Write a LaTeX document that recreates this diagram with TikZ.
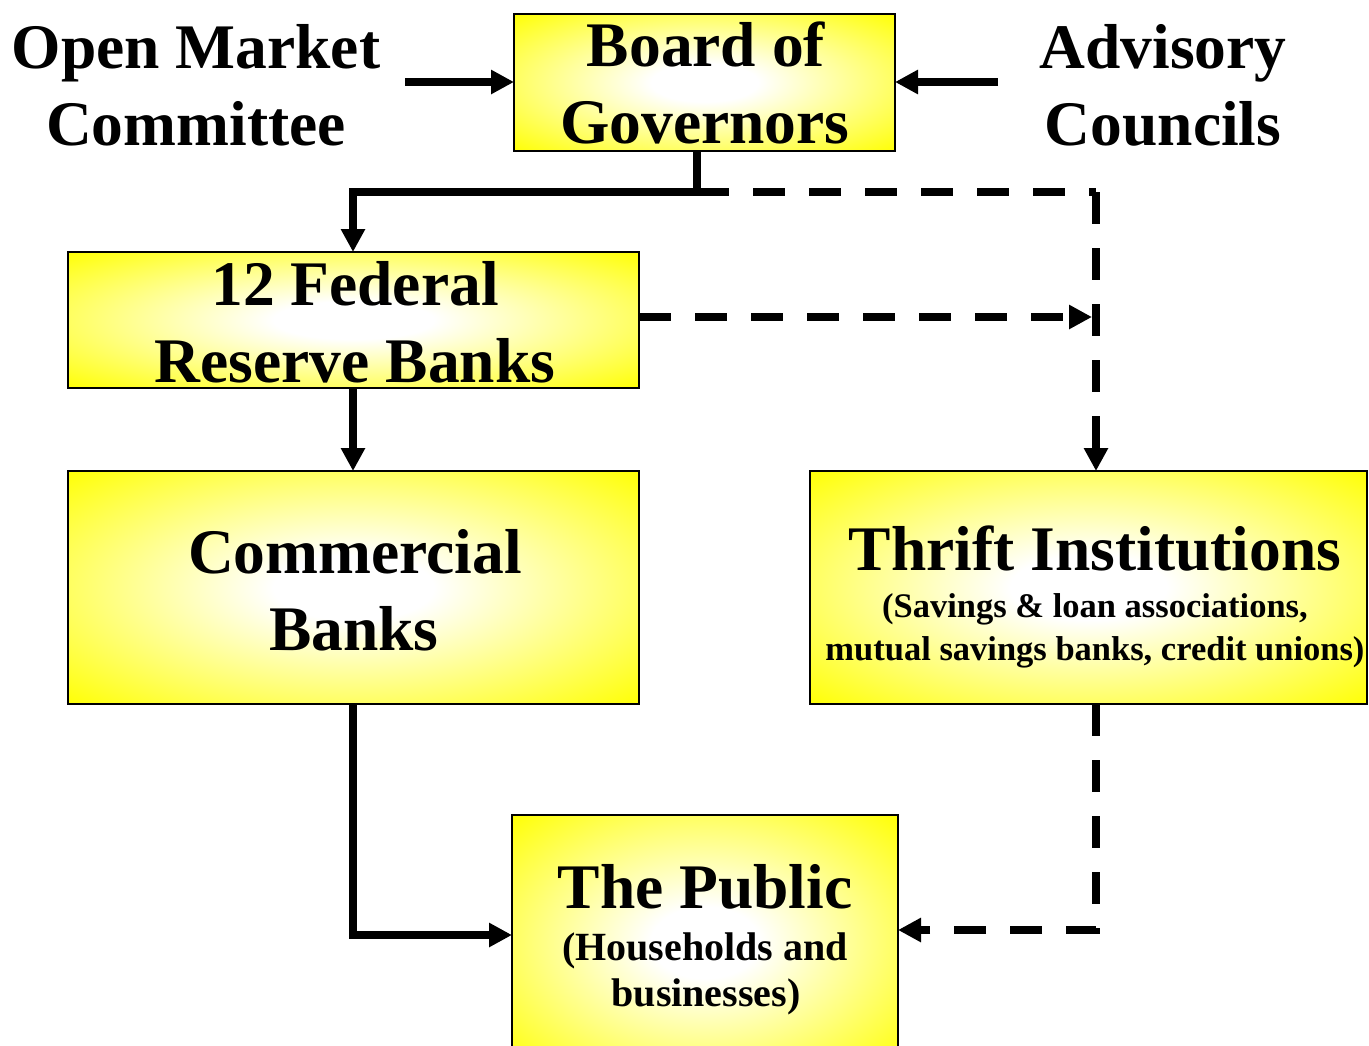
\documentclass[tikz,border=0pt]{standalone}
\usepackage{fontspec}
\setmainfont{Liberation Serif}
\usetikzlibrary{arrows.meta}
\pgfdeclareradialshading{glow}{\pgfpoint{0bp}{0bp}}{color(0bp)=(white); color(7bp)=(white); color(36bp)=(yellow); color(50bp)=(yellow)}
\tikzset{
  boxshape/.style={draw=black, line width=2.2pt, shading=glow},
  big/.style={font=\bfseries\fontsize{63.5}{77}\selectfont, anchor=base, inner sep=0pt},
  mid/.style={font=\bfseries\fontsize{40}{47}\selectfont, anchor=base, inner sep=0pt},
  small/.style={font=\bfseries\fontsize{34.5}{43}\selectfont, anchor=base, inner sep=0pt},
  tip/.style={-{Triangle[length=23pt,width=23pt]}},
  conn/.style={line width=8pt, tip},
  plainconn/.style={line width=8pt},
  dashconn/.style={line width=8pt, dash pattern=on 32pt off 24pt},
}
\begin{document}
\begin{tikzpicture}[x=1pt,y=-1pt]
\clip (0,0) rectangle (1369,1045);
\fill[white] (0,0) rectangle (1369,1045);

% boxes
\path[boxshape] (514,14) rectangle (895,151);
\coordinate (boardS) at (697,151);
\coordinate (boardW) at (514,82);
\coordinate (boardE) at (895,82);

\path[boxshape] (68,252) rectangle (639,388);
\coordinate (fedN) at (353,252);
\coordinate (fedS) at (353,388);
\coordinate (fedE) at (639,317);

\path[boxshape] (68,471) rectangle (639,704);
\coordinate (comN) at (353,471);
\coordinate (comS) at (353,704);

\path[boxshape] (810,471) rectangle (1367,704);
\coordinate (thrN) at (1096,471);
\coordinate (thrS) at (1096,704);

\path[boxshape] (512,815) rectangle (898,1070);
\coordinate (pubW) at (512,935);
\coordinate (pubE) at (898,930);

% texts
\node[big] (om1) at (196,68) {Open Market};
\node[big] (om2) at (196,145) {Committee};
\node[big] (ad1) at (1163,68) {Advisory};
\node[big] (ad2) at (1163,145) {Councils};
\node[big] (bg1) at (706,66) {Board of};
\node[big] (bg2) at (705,143) {Governors};
\node[big] (fr1) at (355,305) {12 Federal};
\node[big] (fr2) at (355,382) {Reserve Banks};
\node[big] (cb1) at (355,573) {Commercial};
\node[big] (cb2) at (354,650) {Banks};
\node[big] (th1) at (1095,570) {Thrift Institutions};
\node[small] (th2) at (1095,617) {(Savings \& loan associations,};
\node[small] (th3) at (1095,660) {mutual savings banks, credit unions)};
\node[big] (pb1) at (705,908) {The Public};
\node[mid] (pb2) at (705,960) {(Households and};
\node[mid] (pb3) at (706,1006) {businesses)};

% connectors
\coordinate (omEnd) at (405,82);
\coordinate (adEnd) at (998,82);
\draw[conn] (omEnd) -- (boardW);
\draw[conn] (adEnd) -- (boardE);

\coordinate (j1) at (697,192);
\coordinate (j0) at (353,192);
\coordinate (j2) at (1096,192);
\draw[plainconn] (boardS) -- (j1);
\draw[conn] (j1) -- (j0) -- (fedN);
\draw[dashconn] (j1) -- (j2);
\draw[dashconn, tip] (j2) -- (thrN);

\coordinate (fedTip) at (1092,317);
\draw[dashconn, tip] (fedE) -- (fedTip);

\draw[conn] (fedS) -- (comN);

\coordinate (j3) at (353,935);
\draw[conn] (comS) -- (j3) -- (pubW);

\coordinate (j4) at (1096,930);
\draw[dashconn, tip] (thrS) -- (j4) -- (pubE);
\end{tikzpicture}
\end{document}
